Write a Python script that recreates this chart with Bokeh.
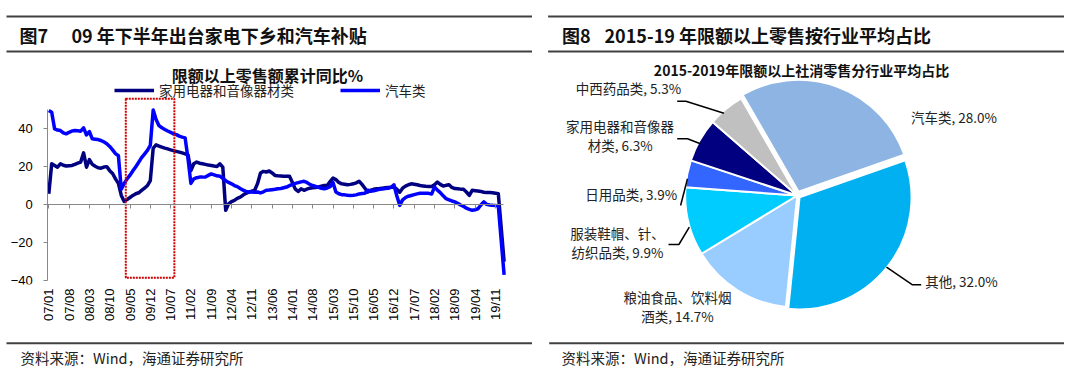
import math
from bokeh.plotting import figure
from bokeh.models import Range1d, FixedTicker, LinearAxis, Legend, LegendItem, ColumnDataSource
from bokeh.layouts import row, column
from bokeh.core.properties import value
from bokeh.embed import file_html
from bokeh.resources import INLINE

# ---------------- data: left chart (cumulative YoY, %) ----------------
month_labels = [f"{y % 100:02d}/{m:02d}" for y in range(2007, 2021) for m in range(1, 13)][:158]

appliance_yoy = [
    5.6, 21.3, 20.4, 19.5, 21.3, 20.5, 20.1, 20.3, 20.4, 21.0, 21.6, 22.2,      # 2007
    27.0, 19.5, 23.5, 21.0, 20.0, 19.2, 19.0, 19.6, 19.8, 17.7, 16.2, 13.4,     # 2008
    11.0, 4.7, 1.5, 2.6, 3.6, 4.7, 5.6, 6.1, 7.3, 8.5, 9.9, 12.5,               # 2009
    29.5, 31.2, 30.6, 30.0, 29.5, 29.1, 28.6, 28.2, 27.8, 27.4, 27.0, 26.5,     # 2010
    26.0, 17.7, 21.3, 22.2, 21.6, 21.3, 21.0, 20.6, 20.4, 20.1, 19.9, 21.3,     # 2011
    19.5, -3.1, 0.3, 1.5, 2.1, 3.2, 3.8, 4.9, 5.8, 6.4, 6.9, 7.4,               # 2012
    11.0, 16.5, 17.3, 17.0, 17.5, 16.5, 15.2, 15.0, 14.9, 14.8, 14.8, 14.8,     # 2013
    11.5, 8.0, 6.8, 8.2, 7.4, 8.0, 8.5, 8.7, 8.9, 9.1, 9.5, 9.9,                # 2014
    9.9, 12.0, 13.8, 13.0, 11.5, 10.8, 10.6, 10.3, 10.5, 10.8, 11.3, 12.1,      # 2015
    10.5, 8.5, 6.4, 7.5, 7.9, 8.2, 8.3, 8.5, 8.7, 8.9, 9.0, 9.1,                # 2016
    8.0, 6.4, 8.5, 9.6, 10.3, 10.8, 10.6, 10.3, 9.9, 9.7, 9.5, 9.4,             # 2017
    9.4, 10.3, 11.7, 10.5, 9.6, 10.0, 10.3, 8.9, 8.3, 8.2, 8.0, 7.9,            # 2018
    6.5, 4.7, 7.4, 7.2, 7.0, 6.8, 6.4, 6.3, 6.2, 6.1, 5.9, 5.6,                 # 2019
    None, -30.0,                                                               # 2020
]

car_yoy = [
    49.2, 48.3, 39.6, 39.0, 38.7, 37.5, 37.0, 37.8, 38.5, 38.7, 38.6, 38.4,     # 2007
    40.1, 36.4, 38.2, 34.4, 34.2, 34.0, 33.5, 32.8, 31.8, 30.4, 28.6, 26.6,     # 2008
    25.5, 8.0, 11.0, 13.4, 15.3, 17.6, 19.8, 22.1, 24.5, 26.4, 28.3, 30.9,      # 2009
    49.5, 44.5, 41.3, 40.2, 39.3, 38.5, 37.8, 37.0, 36.6, 35.8, 35.3, 34.9,     # 2010
    24.0, 11.0, 13.4, 14.0, 14.3, 14.3, 14.4, 15.2, 16.0, 15.5, 15.0, 14.8,     # 2011
    13.6, 12.4, 11.5, 10.8, 9.9, 9.3, 8.3, 7.5, 6.8, 6.5, 6.5, 6.4,             # 2012
    6.5, 6.0, 6.6, 7.4, 7.5, 7.7, 7.9, 8.2, 8.3, 8.7, 9.1, 9.8,                 # 2013
    10.5, 11.0, 11.4, 11.8, 12.1, 11.5, 10.5, 9.9, 9.4, 8.9, 8.5, 8.2,          # 2014
    8.6, 9.3, 11.5, 6.5, 5.6, 5.1, 5.0, 4.8, 4.7, 4.8, 5.0, 5.5,                # 2015
    5.7, 5.9, 7.4, 6.9, 7.1, 7.5, 7.9, 8.1, 8.3, 8.5, 8.9, 10.3,                # 2016
    4.5, -0.5, 2.4, 3.6, 4.3, 4.7, 5.1, 5.5, 5.8, 5.9, 5.8, 5.8,                # 2017
    5.4, 9.1, 7.5, 6.2, 4.5, 3.0, 2.4, 1.8, 1.3, 0.6, -0.3, -1.0,               # 2018
    -2.0, -2.6, -3.1, -2.8, -2.3, -0.3, 1.3, 0.0, -0.3, -0.5, -0.6, -0.8,       # 2019
    None, -37.0,                                                               # 2020
]

series_names = ["家用电器和音像器材类", "汽车类"]
y_ticks = [-40, -20, 0, 20, 40]
x_tick_labels = ["07/01", "07/08", "08/03", "08/10", "09/05", "09/12", "10/07", "11/02",
                 "11/09", "12/04", "12/11", "13/06", "14/01", "14/08", "15/03", "15/10",
                 "16/05", "16/12", "17/07", "18/02", "18/09", "19/04", "19/11"]

# ---------------- data: right chart (average share, %) ----------------
pie_categories = ["汽车类", "其他", "粮油食品、饮料烟酒类", "服装鞋帽、针、纺织品类",
                  "日用品类", "家用电器和音像器材类", "中西药品类"]
pie_shares = [28.0, 32.0, 14.7, 9.9, 3.9, 6.3, 5.3]

# ---------------- styles / layout ----------------
CJK = value("Noto Sans CJK SC")
LAT = "Liberation Sans"
line_colors = ["#000080", "#0000FF"]
pie_colors = {"汽车类": "#8DB4E2", "其他": "#00B0F0", "粮油食品、饮料烟酒类": "#99CCFF",
              "服装鞋帽、针、纺织品类": "#00CCFF", "日用品类": "#3366FF",
              "家用电器和音像器材类": "#000080", "中西药品类": "#C0C0C0"}
pie_explode = {"汽车类": 4, "其他": 3}
pie_wrap = {"家用电器和音像器材类": 8, "服装鞋帽、针、纺织品类": 7, "粮油食品、饮料烟酒类": 8}
LINE_GAP = 19
# first-line centres in page pixels
pie_label_pos = {"中西药品类": (628, 87.3), "家用电器和音像器材类": (619.6, 125),
                 "日用品类": (630.8, 193.3), "服装鞋帽、针、纺织品类": (617, 232.7),
                 "粮油食品、饮料烟酒类": (677, 296), "汽车类": (953.5, 116), "其他": (961, 280.7)}
pie_leaders = [
    [(676.7, 100.7), (685.4, 100.7), (723.4, 112.7)],
    [(676.7, 138.3), (687.0, 138.3), (699.9, 143.3)],
    [(680.1, 205.0), (687.0, 178.3)],
    [(668.0, 244.0), (678.4, 244.0), (688.8, 226.7)],
    [(886.0, 266.7), (912.0, 284.3), (920.7, 284.3)],
]
PIE_CX, PIE_CY, PIE_R, PIE_START = 796.7, 195.0, 112.0, 120.0
PX0, PX_PER_MONTH = 48.3, 2.9     # page x of month 0, pixels per month
LW, RW = 532, 532


def deco_fig(x0, x1, y0, y1):
    f = figure(width=x1 - x0, height=y1 - y0, x_range=Range1d(x0, x1), y_range=Range1d(-y1, -y0),
               x_axis_type=None, y_axis_type=None, toolbar_location=None, output_backend="svg",
               min_border=0)
    f.outline_line_color = None
    f.xgrid.visible = False
    f.ygrid.visible = False
    return f


def header(x0, x1, lx0, lx1, fig_no, title, tx_no, tx_title):
    f = deco_fig(x0, x1, 0, 60)
    f.segment(x0=[lx0, lx0], x1=[lx1, lx1], y0=[-16, -51], y1=[-16, -51], line_color="#404040", line_width=2)
    f.text(x=[tx_no, tx_title], y=[-34.5, -34.5], text=[fig_no, title], text_font=CJK,
           text_font_size=value("18px"), text_font_style="bold", text_color="#111111",
           text_align="left", text_baseline="middle")
    return f


def footer(x0, x1, lx0, lx1, tx):
    f = deco_fig(x0, x1, 338, 368)
    f.segment(x0=[lx0], x1=[lx1], y0=[-342.7], y1=[-342.7], line_color="#404040", line_width=2)
    f.text(x=[tx], y=[-357], text=["资料来源：Wind，海通证券研究所"], text_font=CJK,
           text_font_size=value("14.5px"), text_color="#222222", text_align="left", text_baseline="middle")
    return f


# ---------------- left line chart ----------------
p = figure(width=LW, height=278,
           x_range=Range1d((0 - PX0) / PX_PER_MONTH, (LW - PX0) / PX_PER_MONTH),
           y_range=Range1d(-42.0, 74.4), y_axis_location=None,
           toolbar_location=None, output_backend="svg",
           min_border_left=0, min_border_right=0, min_border_top=2, min_border_bottom=54)
p.outline_line_color = None
p.xgrid.visible = False
p.ygrid.visible = False

renderers = []
for vals, name, col in zip([appliance_yoy, car_yoy], series_names, line_colors):
    xs = [i for i, v in enumerate(vals) if v is not None]
    ys = [v for v in vals if v is not None]
    renderers.append(p.line(xs, ys, line_color=col, line_width=3.5, line_join="round"))

# red dotted highlight box (annotation)
p.quad(left=[26.55], right=[43.3], bottom=[-38.4], top=[55.4], fill_color=None,
       line_color="#D00000", line_width=2, line_dash="2 1")

tick_pos = [month_labels.index(t) for t in x_tick_labels]

yaxis = LinearAxis(fixed_location=-0.35, ticker=FixedTicker(ticks=y_ticks), bounds=(-40, 50),
                   axis_line_color="#888888", major_tick_line_color="#888888",
                   major_tick_out=4, major_tick_in=0, minor_tick_line_color=None,
                   major_label_text_font=LAT, major_label_text_font_size="13px",
                   major_label_text_color="#000000", major_label_standoff=11)
p.add_layout(yaxis, "left")

p.xaxis.ticker = FixedTicker(ticks=tick_pos)
p.xaxis.major_label_overrides = {t: l for t, l in zip(tick_pos, x_tick_labels)}
p.xaxis.major_label_orientation = math.pi / 2
p.xaxis.axis_line_color = None
p.xaxis.major_tick_line_color = None
p.xaxis.major_tick_out = 0
p.xaxis.minor_tick_line_color = None
p.xaxis.major_label_text_font = LAT
p.xaxis.major_label_text_font_size = "13px"
p.xaxis.major_label_text_color = "#000000"
p.xaxis.major_label_standoff = 4

zero_axis = LinearAxis(fixed_location=0, ticker=FixedTicker(ticks=tick_pos), bounds=(-0.35, 156.8),
                       axis_line_color="#888888", major_tick_line_color="#888888",
                       major_tick_out=4, major_tick_in=0, minor_tick_line_color=None,
                       major_label_text_font_size="0px",
                       major_label_overrides={t: "" for t in tick_pos})
p.add_layout(zero_axis, "below")

p.text(x=[75.4], y=[67.6], text=["限额以上零售额累计同比%"], text_font=CJK,
       text_font_size=value("16px"), text_font_style="bold", text_align="center",
       text_baseline="middle", text_color="#111111")

legend = Legend(items=[LegendItem(label=value(n), renderers=[r]) for n, r in zip(series_names, renderers)],
                orientation="horizontal", location=(114, 183.8), padding=0, margin=0, spacing=46,
                glyph_width=40, glyph_height=16, label_height=16, label_standoff=5,
                label_text_font="Noto Sans CJK SC", label_text_font_size="13.5px",
                label_text_color="#222222", border_line_alpha=0, background_fill_alpha=0)
p.add_layout(legend)

# ---------------- right pie chart ----------------
q = deco_fig(LW, LW + RW, 60, 338)
total = sum(pie_shares)
starts, ends, cxs, cys, cols = [], [], [], [], []
cum = 0.0
for name, s in zip(pie_categories, pie_shares):
    a_hi = PIE_START - cum / total * 360.0
    a_lo = PIE_START - (cum + s) / total * 360.0
    cum += s
    mid = math.radians((a_hi + a_lo) / 2)
    off = pie_explode.get(name, 0)
    starts.append(math.radians(a_lo))
    ends.append(math.radians(a_hi))
    cxs.append(PIE_CX + off * math.cos(mid))
    cys.append(-PIE_CY + off * math.sin(mid))
    cols.append(pie_colors[name])
src = ColumnDataSource(dict(x=cxs, y=cys, start=starts, end=ends, color=cols, cat=pie_categories))
q.wedge(x="x", y="y", radius=PIE_R, start_angle="start", end_angle="end", fill_color="color",
        line_color="white", line_width=2, source=src)

q.multi_line(xs=[[pt[0] for pt in ln] for ln in pie_leaders],
             ys=[[-pt[1] for pt in ln] for ln in pie_leaders], line_color="black", line_width=1.5)

lab_x, lab_y, lab_t = [], [], []
for name, s in zip(pie_categories, pie_shares):
    k = pie_wrap.get(name)
    full = name + f", {s:.1f}%"
    lines = [full[:k], full[k:]] if k else [full]
    lx, ly = pie_label_pos[name]
    for j, ln in enumerate(lines):
        lab_x.append(lx)
        lab_y.append(-(ly + j * LINE_GAP))
        lab_t.append(ln)
q.text(x=lab_x, y=lab_y, text=lab_t, text_font=CJK, text_font_size=value("13.5px"),
       text_color="#222222", text_align="center", text_baseline="middle")
q.text(x=[801], y=[-69], text=["2015-2019年限额以上社消零售分行业平均占比"], text_font=CJK,
       text_font_size=value("14px"), text_font_style="bold", text_align="center",
       text_baseline="middle", text_color="#111111")

hL = header(0, LW, 6, 533, "图7", "09 年下半年出台家电下乡和汽车补贴", 19, 71)
hR = header(LW, LW + RW, 547.6, 1076, "图8", "2015-19 年限额以上零售按行业平均占比", 561.5, 604)
fL = footer(0, LW, 6, 533, 20)
fR = footer(LW, LW + RW, 548.7, 1076, 561)

layout = row(column(hL, p, fL, spacing=0), column(hR, q, fR, spacing=0), spacing=0)
open("out.html", "w").write(file_html(layout, INLINE))
